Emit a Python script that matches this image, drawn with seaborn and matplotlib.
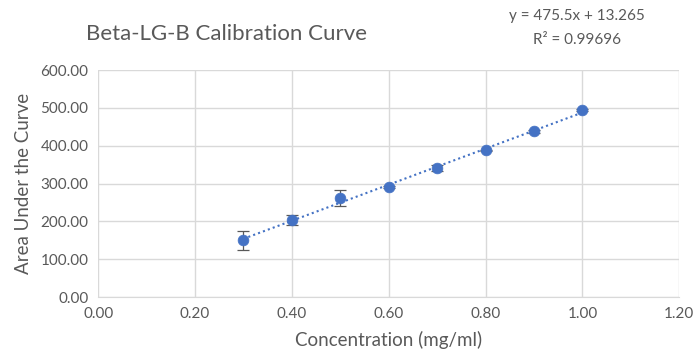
import numpy as np
import pandas as pd
import matplotlib
matplotlib.use("Agg")
import matplotlib.pyplot as plt
import seaborn as sns

conc = [0.3, 0.4, 0.5, 0.6, 0.7, 0.8, 0.9, 1.0]
auc = [150, 204, 262, 292, 341, 388, 438, 494]
auc_err = [25, 12, 22, 3, 8, 2, 3, 3]
x_ticks = [0.0, 0.2, 0.4, 0.6, 0.8, 1.0, 1.2]
y_ticks = [0, 100, 200, 300, 400, 500, 600]

df = pd.DataFrame({"conc": conc, "auc": auc, "err": auc_err})

sns.set_style("white")
plt.rcParams["font.family"] = ["Lato", "DejaVu Sans"]

grey = "#595959"
blue = "#4472C4"
grid = "#D9D9D9"

fig = plt.figure(figsize=(6.96, 3.58), dpi=100)
ax = fig.add_axes([0.141, 0.170, 0.835, 0.634])

# trendline (dotted)
sns.regplot(data=df, x="conc", y="auc", ax=ax, scatter=False, ci=None,
            line_kws={"color": blue, "linestyle": (0, (1, 1.5)), "linewidth": 1.5})

ax.errorbar(df["conc"], df["auc"], yerr=df["err"], fmt="none",
            ecolor=grey, elinewidth=0.9, capsize=4, capthick=0.9, zorder=3)
sns.scatterplot(data=df, x="conc", y="auc", ax=ax, color=blue, s=60,
                edgecolor=blue, linewidth=0.5, zorder=4)

ax.set_xlim(0, 1.2)
ax.set_ylim(0, 600)
ax.set_xticks(x_ticks)
ax.set_yticks(y_ticks)
ax.set_xticklabels([f"{v:.2f}" for v in x_ticks])
ax.set_yticklabels([f"{v:.2f}" for v in y_ticks])
ax.tick_params(colors=grey, labelsize=11, length=0, pad=7)
ax.grid(True, color=grid, linewidth=1)
ax.set_axisbelow(True)
for side in ["top", "right", "left"]:
    ax.spines[side].set_visible(False)
ax.spines["bottom"].set_color(grid)

ax.set_xlabel("Concentration (mg/ml)", color=grey, fontsize=13.5, labelpad=7)
ax.set_ylabel("Area Under the Curve", color=grey, fontsize=13.5, labelpad=6)

fig.text(0.124, 0.905, "Beta-LG-B Calibration Curve", color=grey, fontsize=16,
         ha="left", va="center")
fig.text(0.829, 0.955, "y = 475.5x + 13.265", color=grey, fontsize=11,
         ha="center", va="center")
fig.text(0.829, 0.888, "R² = 0.99696", color=grey, fontsize=11,
         ha="center", va="center")

fig.savefig("out.png", dpi=100)
